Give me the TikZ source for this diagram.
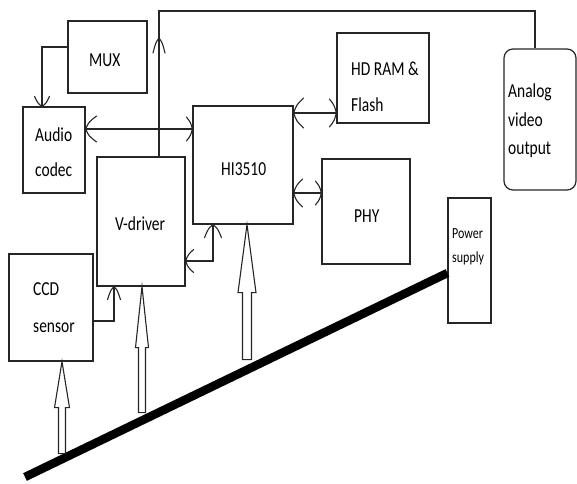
\documentclass[tikz,border=0pt]{standalone}
\usepackage{fontspec}
\usepackage{graphicx}
\setmainfont{Carlito}
\usetikzlibrary{calc}
\newcommand\tx[1]{\scalebox{1}[1.28]{#1}}
\tikzset{
  box/.style={draw=black!85, line width=1.2pt, inner sep=0pt, rectangle},
  lbl/.style={anchor=base west, inner sep=0pt, font=\fontsize{15.5}{18}\selectfont},
  small/.style={anchor=base west, inner sep=0pt, font=\fontsize{12}{14}\selectfont},
  conn/.style={draw=black!85, line width=1.1pt},
  blk/.style={draw=black!85, line width=1.1pt, fill=white, line join=miter},
  pics/chev/.style n args={2}{code={
    \draw[conn, line cap=round] (-#1,#2) .. controls (-0.3*#1,0.55*#2) .. (0,0)
      .. controls (-0.3*#1,-0.55*#2) .. (-#1,-#2);}},
}
\begin{document}
\begin{tikzpicture}[x=1pt,y=-1pt]
\useasboundingbox (0,0) rectangle (577,483);
% boxes
\node[box, minimum width=79pt, minimum height=72pt] (mux) at (107.5,57) {};
\node[box, minimum width=62pt, minimum height=86pt] (audio) at (54,150) {};
\node[box, minimum width=88pt, minimum height=129pt] (vdrv) at (141,221.5) {};
\node[box, minimum width=100pt, minimum height=118pt] (hi) at (243,165) {};
\node[box, minimum width=92pt, minimum height=90pt] (hdram) at (383,78) {};
\node[box, minimum width=88pt, minimum height=105pt] (phy) at (366,211.5) {};
\node[box, rounded corners=9pt, minimum width=72pt, minimum height=141pt] (analog) at (540,119.5) {};
\node[box, minimum width=43pt, minimum height=125pt] (power) at (469.5,260.5) {};
\node[box, minimum width=84pt, minimum height=107pt] (ccd) at (51,307.5) {};
% labels
\node[lbl] (tmux) at (89,66) {\tx{MUX}};
\node[lbl] (taud1) at (35,141) {\tx{Audio}};
\node[lbl] (taud2) at (35,176) {\tx{codec}};
\node[lbl] (tvd) at (115,230) {\tx{V-driver}};
\node[lbl] (thi) at (221,175) {\tx{HI3510}};
\node[lbl] (thd1) at (351,75) {\tx{HD RAM \&}};
\node[lbl] (thd2) at (351,111) {\tx{Flash}};
\node[lbl] (tphy) at (354,222) {\tx{PHY}};
\node[lbl] (tan1) at (508,97) {\tx{Analog}};
\node[lbl] (tan2) at (508,126) {\tx{video}};
\node[lbl] (tan3) at (508,154) {\tx{output}};
\node[lbl] (tccd1) at (33,295) {\tx{CCD}};
\node[lbl] (tccd2) at (33,332) {\tx{sensor}};
\node[small] (tpw1) at (452,238) {\tx{Power}};
\node[small] (tpw2) at (452,262) {\tx{supply}};
% coordinates
\coordinate (ytop) at (0,11);
\coordinate (vtip) at (159,38);
\coordinate (yhd) at (0,113);
\coordinate (yphy) at (0,193);
\coordinate (gnd) at (25,477);
% MUX -> Audio codec
\draw[conn] ([yshift=10pt]mux.west) -| ([xshift=-12pt]audio.north);
\pic[rotate=-90] at ([xshift=-12pt]audio.north) {chev={10}{7.5}};
% Audio codec <-> HI3510
\draw[conn] ([yshift=21pt]audio.east) -- ([yshift=21pt]audio.east -| hi.west);
\pic[rotate=180] at ([yshift=21pt]audio.east) {chev={11}{13}};
\pic at ([yshift=21pt]audio.east -| hi.west) {chev={6}{12}};
% HI3510 <-> HD RAM
\draw[conn] (hi.east |- yhd) -- (hdram.west |- yhd);
\pic[rotate=180] at (hi.east |- yhd) {chev={10}{15}};
\pic at (hdram.west |- yhd) {chev={7}{14}};
% HI3510 <-> PHY
\draw[conn] (hi.east |- yphy) -- (phy.west |- yphy);
\pic[rotate=180] at (hi.east |- yphy) {chev={9}{14}};
\pic at (phy.west |- yphy) {chev={6}{12}};
% V-driver -> analog video output
\draw[conn] ([xshift=18pt]vdrv.north) -- (vtip |- ytop) -| ([xshift=-5pt]analog.north);
\pic[rotate=90] at (vtip) {chev={15}{6}};
% CCD -> V-driver
\draw[conn] ([yshift=-13.5pt]ccd.east) -| ([xshift=-27pt]vdrv.south);
\pic[rotate=90] at ([xshift=-27pt]vdrv.south) {chev={13}{6.5}};
% V-driver <-> HI3510
\draw[conn] ([yshift=-39.5pt]vdrv.east) -| ([xshift=-30pt]hi.south);
\pic[rotate=180] at ([yshift=-39.5pt]vdrv.east) {chev={8}{11.5}};
\pic[rotate=90] at ([xshift=-30pt]hi.south) {chev={13}{8.5}};
% power line
\draw[line width=8.5pt, black] (gnd) -- ([yshift=-12.5pt]power.west);
% block arrows
\draw[blk] ([xshift=11pt]ccd.south) -- ++(7.5,46) -- ++(-4,0) -- ++(0,46) -- ++(-7,0) -- ++(0,-46) -- ++(-4,0) -- cycle;
\draw[blk] ([xshift=1pt]vdrv.south) -- ++(6.5,61) -- ++(-3,0) -- ++(0,65) -- ++(-7,0) -- ++(0,-65) -- ++(-3,0) -- cycle;
\draw[blk] ([xshift=4pt]hi.south) -- ++(9,68) -- ++(-4.5,0) -- ++(0,67) -- ++(-9,0) -- ++(0,-67) -- ++(-4.5,0) -- cycle;
\end{tikzpicture}
\end{document}
